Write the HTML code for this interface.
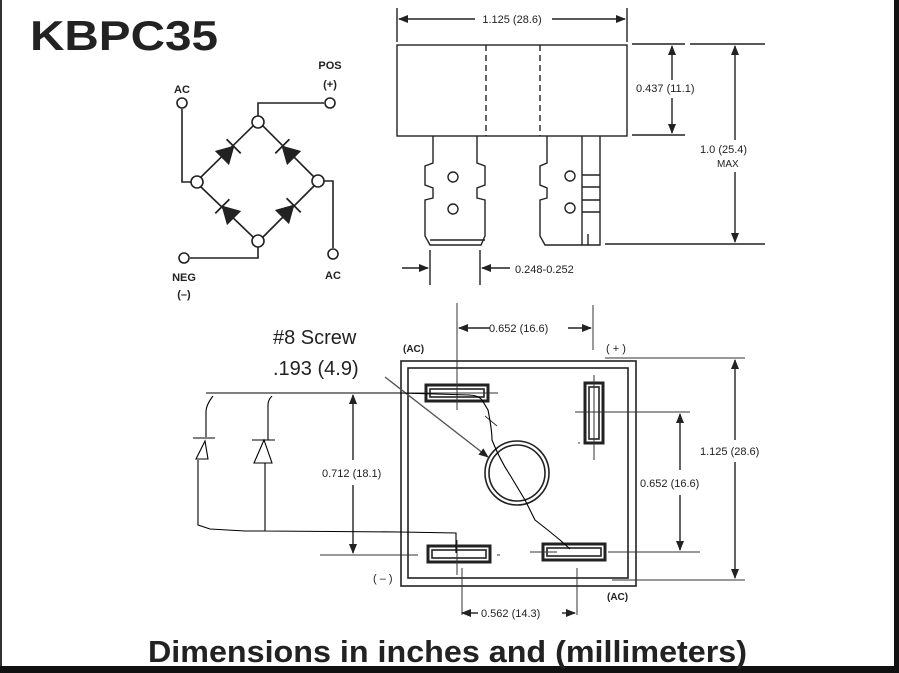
<!DOCTYPE html>
<html><head><meta charset="utf-8"><style>
body{margin:0;background:#fff}
svg{display:block}
text{font-family:"Liberation Sans",sans-serif;fill:#222}
</style></head><body>
<svg width="899" height="673" viewBox="0 0 899 673" xmlns="http://www.w3.org/2000/svg">
<defs>
<marker id="a" markerWidth="10" markerHeight="8" refX="9" refY="4" orient="auto" markerUnits="userSpaceOnUse"><path d="M0,0L10,4L0,8z" fill="#222"/></marker>
<g id="d"><path d="M-8,-9L8,0L-8,9z" fill="#222" stroke="#222" stroke-width="1.2"/><path d="M8,-10V10" stroke="#222" stroke-width="1.8"/></g>
</defs>
<rect width="899" height="673" fill="#fff"/>
<rect x="0" y="0" width="2" height="673" fill="#333"/>
<rect x="894" y="0" width="5" height="673" fill="#111"/>
<rect x="0" y="666" width="899" height="7" fill="#111"/>
<text x="30" y="50" font-size="42" font-weight="bold" fill="#222" textLength="188" lengthAdjust="spacingAndGlyphs">KBPC35</text>
<text x="148" y="662" font-size="31" font-weight="bold" textLength="599" lengthAdjust="spacingAndGlyphs">Dimensions in inches and (millimeters)</text>

<!-- schematic -->
<g stroke="#222" stroke-width="1.6" fill="none">
<path d="M182,109V182H191"/>
<path d="M258,116V103H324"/>
<path d="M324,181H333V248"/>
<path d="M190,258H258V247"/>
<path d="M201,177L253,126M263,126L314,177M201,187L253,237M263,237L314,186"/>
</g>
<use href="#d" transform="translate(228,152) rotate(-45)"/>
<use href="#d" transform="translate(288,152) rotate(-135)"/>
<use href="#d" transform="translate(228,212) rotate(-135)"/>
<use href="#d" transform="translate(288,211) rotate(-45)"/>
<g fill="#fff" stroke="#222" stroke-width="1.6">
<circle cx="182" cy="103" r="5"/><circle cx="330" cy="103" r="5"/>
<circle cx="184" cy="258" r="5"/><circle cx="333" cy="254" r="5"/>
<circle cx="258" cy="122" r="6"/><circle cx="197" cy="182" r="6"/>
<circle cx="318" cy="181" r="6"/><circle cx="258" cy="241" r="6"/>
</g>
<g font-size="11" font-weight="bold" text-anchor="middle">
<text x="182" y="93">AC</text><text x="330" y="69">POS</text><text x="330" y="88">(+)</text>
<text x="184" y="281">NEG</text><text x="184" y="298">(–)</text><text x="333" y="279">AC</text>
</g>

<!-- side view -->
<g stroke="#222" stroke-width="1.4" fill="none">
<rect x="397" y="45" width="230" height="91"/>
<path d="M486,45V136M540,45V136" stroke-dasharray="6,4"/>
<path d="M433,136V163L425,166V185L433,188V198L425,200V236L430,245H481L485,236V200L477,198V188L485,185V166L477,163V136"/>
<path d="M430,240H485"/>
<path d="M547,136V163L540,166V185L547,188V198L540,200V236L545,245H600V136M582,136V245M582,175H600M582,187H600M582,200H600M582,212H600M588,234V245"/>
<circle cx="453" cy="177" r="5"/><circle cx="453" cy="209" r="5"/>
<circle cx="570" cy="176" r="5"/><circle cx="570" cy="208" r="5"/>
<path d="M397,8V42M627,8V42"/>
<path d="M475,19H399" marker-end="url(#a)"/><path d="M552,19H625" marker-end="url(#a)"/>
<path d="M632,44H685M632,135H685M605,244H765M690,44H765"/>
<path d="M672,80V46" marker-end="url(#a)"/><path d="M672,98V133" marker-end="url(#a)"/>
<path d="M735,140V46" marker-end="url(#a)"/><path d="M735,172V242" marker-end="url(#a)"/>
<path d="M430,250V285M480,250V285"/>
<path d="M402,268H428" marker-end="url(#a)"/><path d="M510,268H482" marker-end="url(#a)"/>
</g>
<g font-size="11">
<text x="512" y="23" text-anchor="middle">1.125 (28.6)</text>
<text x="636" y="92">0.437 (11.1)</text>
<text x="700" y="153">1.0 (25.4)</text>
<text x="717" y="167" font-size="10">MAX</text>
<text x="515" y="273">0.248-0.252</text>
</g>

<!-- bottom view -->
<g stroke="#222" stroke-width="1.6" fill="none">
<rect x="401" y="361" width="235" height="225"/>
<rect x="408" y="368" width="220" height="210"/>
<circle cx="517" cy="473" r="32"/><circle cx="517" cy="473" r="28"/>
<rect x="426" y="385" width="62" height="16" stroke-width="3"/>
<rect x="430" y="389" width="54" height="8"/>
<rect x="428" y="546" width="62" height="16" stroke-width="3"/>
<rect x="432" y="550" width="54" height="8"/>
<rect x="543" y="544" width="62" height="16" stroke-width="3"/>
<rect x="547" y="548" width="54" height="8"/>
<rect x="585" y="383" width="18" height="60" stroke-width="3"/>
<rect x="589" y="387" width="10" height="52"/>
</g>
<g stroke="#333" stroke-width="1" fill="none">
<path d="M457,303V410M457,540V575M593,305V350M594,375V460M462,568V615M577,568V615"/>
<path d="M317,393H498M320,555H418M497,555H500M608,552H700M557,552H530M575,412H690M605,358H745M612,580H745M578,443H580"/>
<path d="M497,426L485,416" />
</g>
<g stroke="#222" stroke-width="1.4" fill="none">
<path d="M490,328H459" marker-end="url(#a)"/><path d="M568,328H591" marker-end="url(#a)"/>
<path d="M353,460V395" marker-end="url(#a)"/><path d="M353,485V553" marker-end="url(#a)"/>
<path d="M680,470V414" marker-end="url(#a)"/><path d="M680,495V550" marker-end="url(#a)"/>
<path d="M735,440V360" marker-end="url(#a)"/><path d="M735,462V578" marker-end="url(#a)"/>
<path d="M478,613H462" marker-end="url(#a)"/><path d="M562,613H575" marker-end="url(#a)"/>
<path d="M385,377L488,457" stroke="#555" marker-end="url(#a)"/>
</g>
<g font-size="11">
<text x="489" y="332">0.652 (16.6)</text>
<text x="403" y="352" font-size="10" font-weight="bold">(AC)</text>
<text x="606" y="352">( + )</text>
<text x="322" y="477">0.712 (18.1)</text>
<text x="640" y="487">0.652 (16.6)</text>
<text x="700" y="455">1.125 (28.6)</text>
<text x="373" y="582">( – )</text>
<text x="607" y="600" font-size="10" font-weight="bold">(AC)</text>
<text x="481" y="617">0.562 (14.3)</text>
</g>
<text x="273" y="344" font-size="20" fill="#333">#8 Screw</text>
<text x="273" y="375" font-size="20" fill="#333">.193 (4.9)</text>

<!-- hand drawn -->
<g stroke="#000" stroke-width="1.1" fill="none">
<path d="M206,393H400L470,395H468Q478,395 482,400L488,410Q492,430 492,440Q500,460 510,475L525,500L535,520Q548,530 560,540L570,549"/>
<path d="M213,396Q206,405 206,412V437M272,396Q268,400 268,405V440"/>
<path d="M193,438H215M252,440H275"/>
<path d="M205,441L196,459H208ZM264,440L254,463H272Z"/>
<path d="M198,460V525L210,529L245,531H265L400,532L456,533V553M265,463V531"/>
</g>
</svg>
</body></html>
